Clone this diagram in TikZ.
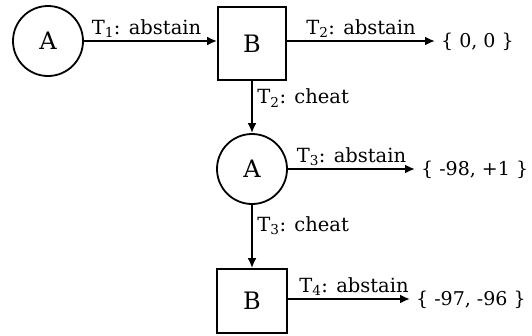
\documentclass[tikz,border=0pt]{standalone}
\usepackage{fontspec}
\setmainfont{DejaVu Serif}
\usetikzlibrary{arrows.meta}
\tikzset{
  playerA/.style={circle, draw, line width=1.8pt, minimum size=70pt, inner sep=0pt, font=\fontsize{24}{26}\selectfont},
  playerB/.style={rectangle, draw, line width=1.8pt, inner sep=0pt, font=\fontsize{24}{26}\selectfont},
  move/.style={line width=2.8pt, -{Latex[length=10pt,width=9pt]}},
  lbl/.style={font=\fontsize{19.5}{22}\selectfont, inner sep=2pt},
  vlbl/.style={lbl, inner xsep=4pt},
  payoff/.style={anchor=west, inner sep=0pt, font=\fontsize{19}{22}\selectfont}
}
\begin{document}
\begin{tikzpicture}[x=1pt,y=-1pt]
\useasboundingbox (0,0) rectangle (532,335);
\node[playerA] (a1) at (48,41) {A};
\node[playerB, minimum width=68pt, minimum height=73pt] (b1) at (252,43.5) {B};
\node[playerA] (a2) at (252,169) {A};
\node[playerB, minimum width=70pt, minimum height=64pt] (b2) at (252,301) {B};
\coordinate (e1) at (435,41);
\coordinate (e2) at (415,169);
\coordinate (e3) at (410,299);
\node[payoff] (p1) at (441,42) {\{ 0, 0 \}};
\node[payoff] (p2) at (421,170) {\{ -98, +1 \}};
\node[payoff] (p3) at (416,300) {\{ -97, -96 \}};
\draw[move] (a1.east |- 0,41) -- (b1.west |- 0,41) node[midway, above, lbl, xshift=-4pt] {T\textsubscript{1}: abstain};
\draw[move] (b1.east |- 0,41) -- (e1) node[midway, above, lbl] {T\textsubscript{2}: abstain};
\draw[move] (b1.south) -- (a2.north) node[pos=0.33, right, vlbl] {T\textsubscript{2}: cheat};
\draw[move] (a2.east) -- (e2) node[midway, above, lbl] {T\textsubscript{3}: abstain};
\draw[move] (a2.south) -- (b2.north) node[pos=0.33, right, vlbl] {T\textsubscript{3}: cheat};
\draw[move] (b2.east |- 0,299) -- (e3) node[midway, above, lbl, xshift=5pt] {T\textsubscript{4}: abstain};
\end{tikzpicture}
\end{document}
